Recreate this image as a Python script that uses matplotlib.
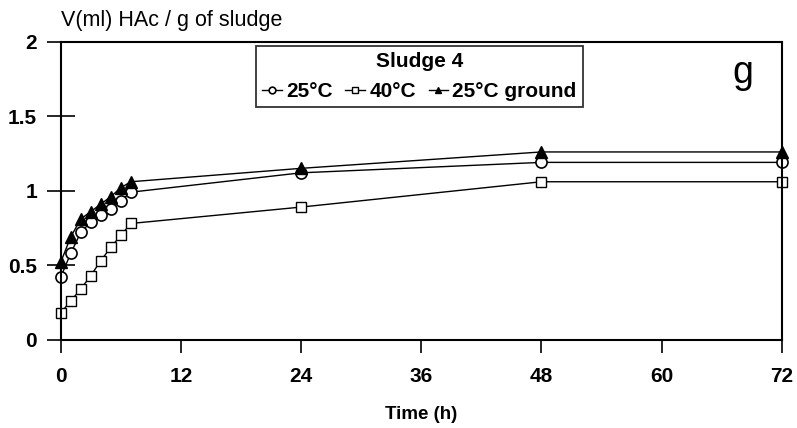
import matplotlib
matplotlib.use("Agg")
import matplotlib.pyplot as plt
from matplotlib.ticker import FuncFormatter

plt.rcParams["font.family"] = ["Liberation Sans", "DejaVu Sans"]

time_h = [0, 1, 2, 3, 4, 5, 6, 7, 24, 48, 72]
acid_25 = [0.42, 0.58, 0.72, 0.79, 0.84, 0.88, 0.93, 0.99, 1.12, 1.19, 1.19]
acid_40 = [0.18, 0.26, 0.34, 0.43, 0.53, 0.62, 0.70, 0.78, 0.89, 1.06, 1.06]
acid_25_ground = [0.52, 0.69, 0.81, 0.86, 0.91, 0.96, 1.02, 1.06, 1.15, 1.26, 1.26]

x_ticks = [0, 12, 24, 36, 48, 60, 72]
y_ticks = [0, 0.5, 1, 1.5, 2]

fig = plt.figure(figsize=(7.97, 4.28), dpi=100)
ax = fig.add_axes([0.0762, 0.2063, 0.9046, 0.6963])

ax.plot(time_h, acid_25, color="black", lw=1.0, marker="o", ms=8,
        mfc="white", mec="black", mew=1.2, label="25°C", clip_on=False)
ax.plot(time_h, acid_40, color="black", lw=1.0, marker="s", ms=7,
        mfc="white", mec="black", mew=1.0, label="40°C", clip_on=False)
ax.plot(time_h, acid_25_ground, color="black", lw=1.0, marker="^", ms=8,
        mfc="black", mec="black", label="25°C ground", clip_on=False)

ax.set_xlim(0, 72)
ax.set_ylim(0, 2)
ax.set_xticks(x_ticks)
ax.set_yticks(y_ticks)
ax.yaxis.set_major_formatter(FuncFormatter(lambda v, p: f"{v:g}"))
ax.tick_params(axis="x", direction="out", length=9, width=1.2, pad=11,
               labelsize=15)
ax.tick_params(axis="y", direction="inout", length=20, width=1.2, pad=7,
               labelsize=15)
for lab in ax.get_xticklabels() + ax.get_yticklabels():
    lab.set_fontweight("bold")
for s in ax.spines.values():
    s.set_linewidth(1.5)

ax.set_xlabel("Time (h)", fontsize=13.5, fontweight="bold", labelpad=14)
fig.text(0.076, 0.928, "V(ml) HAc / g of sludge", fontsize=15.5,
         ha="left", va="bottom")
ax.text(0.961, 0.955, "g", transform=ax.transAxes, fontsize=27,
        ha="right", va="top")

leg = ax.legend(loc="upper left", bbox_to_anchor=(0.271, 0.985), ncol=3,
                title="Sludge 4", prop={"size": 15, "weight": "bold"},
                title_fontproperties={"size": 15, "weight": "bold"},
                frameon=True, fancybox=False, edgecolor="black",
                handlelength=0.95, handletextpad=0.2, columnspacing=0.6,
                borderpad=0.3, borderaxespad=0, markerscale=0.6)
leg.get_frame().set_linewidth(1.3)

fig.savefig("out.png", dpi=100)
